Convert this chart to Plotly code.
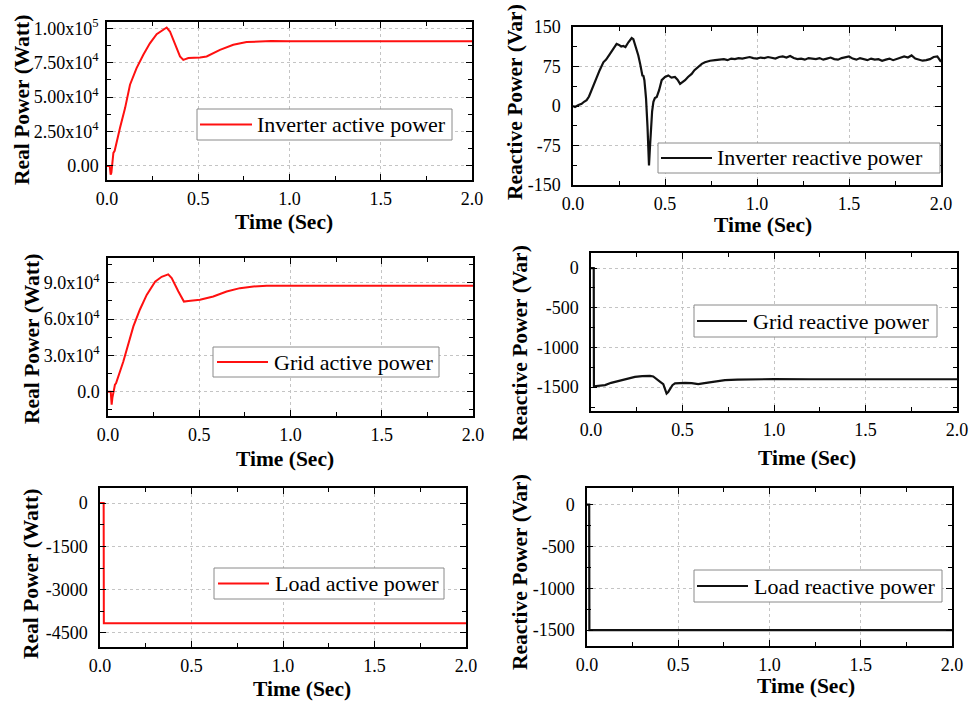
import plotly.graph_objects as go
from plotly.subplots import make_subplots

# ---------------- data ----------------
# Panel 1: inverter active power (W)
t_inv_p = [0, 0.015, 0.02, 0.024, 0.035, 0.042, 0.071, 0.099, 0.126, 0.162, 0.199, 0.235, 0.272,
           0.309, 0.327, 0.345, 0.373, 0.40, 0.418, 0.446, 0.51, 0.546, 0.619, 0.692, 0.765,
           0.838, 0.9, 1.0, 1.5, 2.0]
p_inv = [0, 0, -6300, -5000, 9500, 11000, 27500, 42000, 59000, 71000, 80700, 89000, 95700,
         98800, 100500, 97600, 88000, 79500, 77000, 78300, 78800, 79500, 84300, 88000, 89900,
         90600, 90700, 90600, 90500, 90500]

# Panel 2: inverter reactive power (Var)
t_inv_q = [0, 0.011, 0.03, 0.047, 0.06, 0.074, 0.087, 0.1, 0.115, 0.129, 0.145, 0.165, 0.18,
           0.201, 0.22, 0.237, 0.25, 0.262, 0.273, 0.285, 0.301, 0.319, 0.328, 0.337, 0.345,
           0.355, 0.365, 0.377, 0.383, 0.388, 0.393, 0.397, 0.405, 0.413, 0.418, 0.424, 0.43,
           0.437, 0.445, 0.455, 0.468, 0.482, 0.5, 0.518, 0.535, 0.554, 0.568, 0.582, 0.595,
           0.609, 0.625, 0.645, 0.66, 0.681, 0.7, 0.717, 0.745, 0.772,
           0.80, 0.82, 0.84, 0.86, 0.88, 0.90, 0.92, 0.94, 0.96, 0.98, 1.00, 1.02, 1.04, 1.06,
           1.08, 1.10, 1.12, 1.14, 1.16, 1.18, 1.20, 1.22, 1.24, 1.26, 1.28, 1.30, 1.32, 1.34,
           1.36, 1.38, 1.40, 1.42, 1.44, 1.46, 1.48, 1.50, 1.52, 1.54, 1.56, 1.58, 1.60, 1.62,
           1.64, 1.66, 1.68, 1.70, 1.72, 1.74, 1.76, 1.78, 1.80, 1.82, 1.84, 1.86, 1.88, 1.90,
           1.92, 1.94, 1.96, 1.98, 2.00]
q_inv = [0, -2, 2, 4, 8, 11, 18, 30, 42, 55, 68, 83, 88,
         99, 108, 118, 116, 113, 114, 112, 121, 129, 127, 118, 110,
         96, 80, 58, 57, 49, 30, 14, -40, -113, -80, -43, -10,
         8, 15, 17, 30, 49, 55, 58, 54, 55, 50, 42, 45,
         49, 55, 61, 68, 74, 80, 83, 86, 87,
         88, 89, 87, 90, 89, 91, 90, 92, 93, 91, 90, 92, 91, 93,
         92, 90, 93, 94, 92, 95, 91, 89, 90, 88, 91, 90, 89, 91,
         88, 90, 92, 89, 88, 91, 93, 94, 90, 88, 91, 89, 87, 90,
         88, 89, 86, 88, 90, 87, 89, 91, 94, 92, 96, 90, 88, 86,
         87, 89, 93, 94, 84]

# Panel 3: grid active power (W)
t_grid_p = [0, 0.015, 0.02, 0.024, 0.038, 0.044, 0.084, 0.111, 0.139, 0.175, 0.212, 0.258,
            0.294, 0.33, 0.349, 0.385, 0.416, 0.44, 0.504, 0.577, 0.65, 0.723, 0.797, 0.87,
            1.0, 2.0]
p_grid = [0, 0, -10700, -5000, 5800, 7000, 25000, 39000, 54000, 68000, 80000, 91000,
          95000, 97000, 94000, 83000, 74500, 75000, 76000, 78700, 82800, 85600, 87000, 87500,
          87500, 87500]

# Panel 4: grid reactive power (Var)
t_grid_q = [0, 0.015, 0.016, 0.04, 0.077, 0.11, 0.149, 0.2, 0.24, 0.28, 0.322, 0.34, 0.359,
            0.38, 0.395, 0.405, 0.413, 0.422, 0.432, 0.445, 0.459, 0.514, 0.55, 0.586, 0.62,
            0.66, 0.7, 0.732, 0.8, 0.878, 1.0, 1.2, 1.4, 1.6, 1.8, 2.0]
q_grid = [0, 0, -1490, -1487, -1474, -1445, -1420, -1395, -1370, -1362, -1357, -1365, -1403,
          -1435, -1462, -1520, -1580, -1560, -1517, -1475, -1453, -1445, -1450, -1462, -1450,
          -1433, -1420, -1411, -1405, -1400, -1398, -1400, -1398, -1401, -1399, -1400]

# Panel 5: load active power (W)
t_load_p = [0, 0.02, 0.021, 2.0]
p_load = [0, 0, -4160, -4160]

# Panel 6: load reactive power (Var)
t_load_q = [0, 0.012, 0.013, 2.0]
q_load = [0, 0, -1500, -1500]

x_ticks = [0, 0.5, 1.0, 1.5, 2.0]
x_ticktext = ["0.0", "0.5", "1.0", "1.5", "2.0"]

y1_ticks = [0, 25000, 50000, 75000, 100000]
y1_text = ["0.00", "2.50x10<sup>4</sup>", "5.00x10<sup>4</sup>", "7.50x10<sup>4</sup>", "1.00x10<sup>5</sup>"]
y2_ticks = [-150, -75, 0, 75, 150]
y2_text = ["-150", "-75", "0", "75", "150"]
y3_ticks = [0, 30000, 60000, 90000]
y3_text = ["0.0", "3.0x10<sup>4</sup>", "6.0x10<sup>4</sup>", "9.0x10<sup>4</sup>"]
y4_ticks = [-1500, -1000, -500, 0]
y4_text = ["-1500", "-1000", "-500", "0"]
y5_ticks = [-4500, -3000, -1500, 0]
y5_text = ["-4500", "-3000", "-1500", "0"]
y6_ticks = [-1500, -1000, -500, 0]
y6_text = ["-1500", "-1000", "-500", "0"]

x_title = "Time (Sec)"

# ---------------- figure ----------------
W, H = 969, 704
FONT = "Liberation Serif"
RED = "#ff1010"
BLK = "#111111"

fig = make_subplots(rows=3, cols=2)

panels = [
    # row, col, t, v, name, color, plot box px (l, r, top, bottom), yrange, yticks, ytext, yminor, ytitle,
    # ylabel gap, y title centre px, x title centre px, legend box px, legend line px, legend text x px
    (1, 1, t_inv_p, p_inv, "Inverter active power", RED, (107, 472, 22, 180), [-10200, 104500], y1_ticks, y1_text, 12500,
     "Real Power (Watt)", 3, (22, 100), (284, 222), (197, 452, 109, 140), (200, 252), 255),
    (1, 2, t_inv_q, q_inv, "Inverter reactive power", BLK, (573, 941, 27, 185), [-150, 150], y2_ticks, y2_text, 37.5,
     "Reactive Power (Var)", 7, (515, 102), (763, 225), (658, 940, 143, 173), (661, 712), 715),
    (2, 1, t_grid_p, p_grid, "Grid active power", RED, (108, 473, 258, 416), [-20000, 110500], y3_ticks, y3_text, 15000,
     "Real Power (Watt)", 3, (32, 339), (285, 459), (213, 439, 347, 377), (217, 268), 272),
    (2, 2, t_grid_q, q_grid, "Grid reactive power", BLK, (591, 957, 253, 411), [-1800, 190], y4_ticks, y4_text, 250,
     "Reactive Power (Var)", 7, (520, 343), (807, 458), (694, 937, 305, 337), (697, 747), 751),
    (3, 1, t_load_p, p_load, "Load active power", RED, (100, 466, 488, 647), [-4985, 520], y5_ticks, y5_text, 750,
     "Real Power (Watt)", 7, (31, 574), (302, 689), (214, 444, 568, 599), (218, 269), 273),
    (3, 2, t_load_q, q_load, "Load reactive power", BLK, (587, 952, 488, 646), [-1690, 200], y6_ticks, y6_text, 250,
     "Reactive Power (Var)", 7, (520, 572), (806, 686), (694, 942, 570, 602), (697, 748), 752),
]

axis_common = dict(
    showline=True, linecolor="black", linewidth=1.5, mirror="ticks",
    ticks="inside", ticklen=6, tickwidth=1.3, tickcolor="black",
    showgrid=True, gridcolor="#c4c4c4", griddash="3px,3px", gridwidth=1,
    zeroline=False, automargin=False,
    tickfont=dict(family=FONT, size=18, color="black"),
)

TITLE_FONT = dict(family=FONT, size=21.5, color="black", weight="bold")


def px_x(v):
    return v / W


def px_y(v):
    return 1 - v / H


for (r, c, t, v, name, color, box, yr, yt, ytt, ymin, ytitle, ygap, ytpos, xtpos,
     lbox, lline, ltext) in panels:
    fig.add_trace(go.Scatter(x=t, y=v, mode="lines", name=name,
                             line=dict(color=color, width=2 if color == RED else 2.2),
                             showlegend=False), row=r, col=c)
    l, rr, top, bot = box
    fig.update_xaxes(
        domain=[px_x(l), px_x(rr)], range=[0, 2.0],
        tickmode="array", tickvals=x_ticks, ticktext=x_ticktext, ticklabelstandoff=2,
        minor=dict(dtick=0.25, tick0=0, ticks="inside", ticklen=4, tickcolor="black", showgrid=False),
        **axis_common, row=r, col=c)
    fig.update_yaxes(
        domain=[px_y(bot), px_y(top)], range=yr,
        tickmode="array", tickvals=yt, ticktext=ytt, ticklabelstandoff=ygap,
        minor=dict(dtick=ymin, tick0=0, ticks="inside", ticklen=4, tickcolor="black", showgrid=False),
        **axis_common, row=r, col=c)

    # axis titles
    fig.add_annotation(text=ytitle, xref="paper", yref="paper", x=px_x(ytpos[0]), y=px_y(ytpos[1]),
                       xanchor="center", yanchor="middle", textangle=-90, showarrow=False,
                       font=TITLE_FONT)
    fig.add_annotation(text=x_title, xref="paper", yref="paper", x=px_x(xtpos[0]), y=px_y(xtpos[1]),
                       xanchor="center", yanchor="middle", showarrow=False, font=TITLE_FONT)

    # legend drawn as a framed box, sample line and label
    bl, br, bt, bb = lbox
    cy = (bt + bb) / 2
    fig.add_shape(type="rect", xref="paper", yref="paper",
                  x0=px_x(bl), x1=px_x(br), y0=px_y(bb), y1=px_y(bt),
                  line=dict(color="#8a8a8a", width=1), fillcolor="white", layer="above")
    fig.add_shape(type="line", xref="paper", yref="paper",
                  x0=px_x(lline[0]), x1=px_x(lline[1]), y0=px_y(cy), y1=px_y(cy),
                  line=dict(color=color, width=2), layer="above")
    fig.add_annotation(text=name, xref="paper", yref="paper", x=px_x(ltext), y=px_y(cy),
                       xanchor="left", yanchor="middle", showarrow=False,
                       font=dict(family=FONT, size=22, color="black"))

fig.update_layout(
    width=W, height=H,
    margin=dict(l=0, r=0, t=0, b=0),
    paper_bgcolor="white", plot_bgcolor="white",
    font=dict(family=FONT, color="black"),
    showlegend=False,
)

fig.write_html("out.html")
